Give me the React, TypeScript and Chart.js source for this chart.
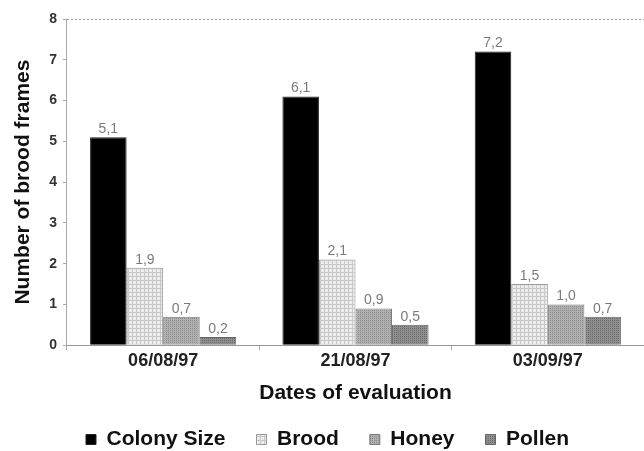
import React, { useEffect, useRef } from "react";
import { Chart, registerables } from "chart.js";

Chart.register(...registerables);

const categories = ["06/08/97", "21/08/97", "03/09/97"];
const colonySize = [5.1, 6.1, 7.2];
const brood = [1.9, 2.1, 1.5];
const honey = [0.7, 0.9, 1.0];
const pollen = [0.2, 0.5, 0.7];
const yTicks = [0, 1, 2, 3, 4, 5, 6, 7, 8];

const FONT = "'Liberation Sans', Arial, sans-serif";

function makePattern(bg: string, dot: string, kind: "grid" | "check"): CanvasPattern | string {
  const c = document.createElement("canvas");
  c.width = 4;
  c.height = 4;
  const ctx = c.getContext("2d");
  if (!ctx) return bg;
  ctx.fillStyle = bg;
  ctx.fillRect(0, 0, 4, 4);
  ctx.fillStyle = dot;
  if (kind === "grid") {
    ctx.fillRect(0, 0, 4, 1);
    ctx.fillRect(0, 0, 1, 4);
  } else {
    ctx.fillRect(0, 0, 1, 1);
    ctx.fillRect(2, 2, 1, 1);
    ctx.fillRect(2, 0, 1, 1);
    ctx.fillRect(0, 2, 1, 1);
  }
  const p = ctx.createPattern(c, "repeat");
  return p || bg;
}

const valueLabels = {
  id: "valueLabels",
  afterDatasetsDraw(chart: any) {
    const ctx = chart.ctx;
    ctx.save();
    ctx.font = `14px ${FONT}`;
    ctx.fillStyle = "#7a7a7a";
    ctx.textAlign = "center";
    ctx.textBaseline = "bottom";
    chart.data.datasets.forEach((ds: any, i: number) => {
      const meta = chart.getDatasetMeta(i);
      meta.data.forEach((bar: any, j: number) => {
        const v = ds.data[j] as number;
        ctx.fillText(v.toFixed(1).replace(".", ","), bar.x, bar.y - 1);
      });
    });
    ctx.restore();
  },
};

const legendHeight = {
  id: "legendHeight",
  beforeLayout(chart: any) {
    const lg = chart.legend;
    if (lg && !lg.__patched) {
      const orig = lg.fit.bind(lg);
      lg.fit = function () {
        orig();
        this.height = 51;
      };
      lg.__patched = true;
    }
  },
};

export default function App() {
  const ref = useRef<HTMLCanvasElement | null>(null);
  useEffect(() => {
    if (!ref.current) return;
    const broodFill = makePattern("#ececec", "#c8c8c8", "grid");
    const honeyFill = makePattern("#b0b0b0", "#8c8c8c", "check");
    const pollenFill = makePattern("#8e8e8e", "#6a6a6a", "check");
    const chart = new Chart(ref.current, {
      type: "bar",
      data: {
        labels: categories,
        datasets: [
          { label: "Colony Size", data: colonySize, backgroundColor: "#000000", borderColor: "#222", borderWidth: 1 },
          { label: "Brood", data: brood, backgroundColor: broodFill as any, borderColor: "#999", borderWidth: 1 },
          { label: "Honey", data: honey, backgroundColor: honeyFill as any, borderColor: "#777", borderWidth: 1 },
          { label: "Pollen", data: pollen, backgroundColor: pollenFill as any, borderColor: "#666", borderWidth: 1 },
        ],
      },
      options: {
        animation: false,
        responsive: false,
        maintainAspectRatio: false,
        layout: { padding: { top: 19, right: 0, left: 11, bottom: 2 } },
        datasets: { bar: { barPercentage: 1, categoryPercentage: 0.76 } },
        plugins: {
          legend: {
            position: "bottom",
            labels: {
              font: { family: FONT, size: 21, weight: "bold" },
              color: "#111",
              boxWidth: 10,
              boxHeight: 10,
              padding: 31,
            },
          },
          tooltip: { enabled: false },
        },
        scales: {
          x: {
            offset: true,
            grid: { display: true, drawOnChartArea: false, tickLength: 5, color: "#aaa", offset: true },
            border: { color: "#999" },
            ticks: { font: { family: FONT, size: 18, weight: "bold" }, color: "#222", padding: 0 },
            title: {
              display: true,
              text: "Dates of evaluation",
              font: { family: FONT, size: 21, weight: "bold" },
              color: "#111",
              padding: { top: 9, bottom: -8 },
            },
          },
          y: {
            min: 0,
            max: 8,
            afterBuildTicks: (axis: any) => {
              axis.ticks = yTicks.map((v) => ({ value: v }));
            },
            grid: {
              drawOnChartArea: true,
              tickLength: 4,
              color: (c: any) => (c.tick && c.tick.value === 8 ? "#999" : "rgba(0,0,0,0)"),
              tickColor: "#aaa",
            },
            border: { color: "#aaa", dash: [2, 2] },
            ticks: { font: { family: FONT, size: 14, weight: "bold" }, color: "#333", padding: 6 },
            title: {
              display: true,
              text: "Number of brood frames",
              font: { family: FONT, size: 21, weight: "bold" },
              color: "#111",
              padding: { top: 0, bottom: 7 },
            },
          },
        },
      },
      plugins: [
        valueLabels,
        legendHeight,
        {
          id: "dashTopGrid",
          beforeDraw(chart: any) {
            const y = chart.scales.y;
            if (y && y.options.grid) y.options.grid.borderDash = [2, 2];
          },
        },
      ],
    });
    return () => chart.destroy();
  }, []);
  return (
    <div style={{ position: "absolute", left: 0, top: 0, width: 644, height: 451, background: "#fff" }}>
      <canvas ref={ref} width={644} height={451} style={{ width: 644, height: 451 }} />
    </div>
  );
}
